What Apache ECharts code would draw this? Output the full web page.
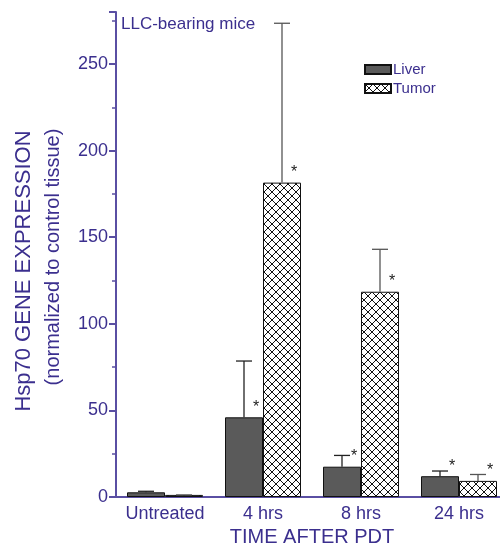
<!DOCTYPE html>
<html>
<head>
<meta charset="utf-8">
<script src="https://cdn.jsdelivr.net/npm/echarts@6/dist/echarts.min.js"></script>
<style>
  html, body { margin: 0; padding: 0; background: #fff; }
  #main { width: 500px; height: 549px; }
</style>
</head>
<body>
<div id="main"></div>
<script>
var categories = ['Untreated', '4 hrs', '8 hrs', '24 hrs'];
var liver = [2.7, 46, 17.5, 12];
var liverErrTop = [3.3, 78.5, 24, 15];
var tumor = [1.2, 181.5, 118.5, 9.3];
var tumorErrTop = [1.2, 273.5, 143, 13];
var liverStar = [0, 1, 1, 1];
var tumorStar = [0, 1, 1, 1];

var purple = '#3b2f8e';
var barW = 38;

// crosshatch fill for tumor bars
var tile = document.createElement('canvas');
tile.width = 8; tile.height = 8;
var ctx = tile.getContext('2d');
ctx.fillStyle = '#fff';
ctx.fillRect(0, 0, 8, 8);
ctx.strokeStyle = '#111';
ctx.lineWidth = 1;
ctx.beginPath();
ctx.moveTo(0, 0); ctx.lineTo(8, 8);
ctx.moveTo(8, 0); ctx.lineTo(0, 8);
ctx.stroke();
var hatch = { image: tile, repeat: 'repeat' };

function errSeries(vals, tops, stars, side, color) {
    var data = categories.map(function (c, i) { return [i, vals[i], tops[i], stars[i]]; });
    return {
        type: 'custom',
        data: data,
        z: 5,
        renderItem: function (params, api) {
            var p0 = api.coord([api.value(0), api.value(1)]);
            var p1 = api.coord([api.value(0), api.value(2)]);
            var x = p0[0] + side * barW / 2;
            var kids = [];
            if (p0[1] - p1[1] > 0.5) {
                kids.push({ type: 'line', shape: { x1: x, y1: p0[1], x2: x, y2: p1[1] }, style: { stroke: color, lineWidth: 1.3 } });
            }
            kids.push({ type: 'line', shape: { x1: x - 8, y1: p1[1], x2: x + 8, y2: p1[1] }, style: { stroke: color, lineWidth: 1.3 } });
            if (api.value(3)) {
                kids.push({ type: 'text', style: { text: '*', x: x + 12, y: p0[1] - 18, fill: '#222', font: '16px Liberation Sans', textAlign: 'center' } });
            }
            return { type: 'group', children: kids };
        }
    };
}

var chart = echarts.init(document.getElementById('main'));
chart.setOption({
    animation: false,
    textStyle: { fontFamily: 'Liberation Sans, Arial, sans-serif' },
    grid: { left: 116, right: -8, top: 12, bottom: 52, outerBoundsMode: 'none', containLabel: false },
    legend: {
        orient: 'vertical',
        left: 359, top: 57,
        icon: 'rect',
        itemWidth: 26, itemHeight: 9, itemGap: 4,
        textStyle: { color: purple, fontSize: 15, padding: [0, 0, 0, -3] },
        data: ['Liver', 'Tumor']
    },
    graphic: [
        { type: 'text', left: 121, top: 16, style: { text: 'LLC-bearing mice', fill: purple, font: '17px Liberation Sans' } },
        { type: 'text', x: 24, y: 271, rotation: Math.PI / 2, style: { text: 'Hsp70 GENE EXPRESSION', fill: purple, font: '22px Liberation Sans', textAlign: 'center', textVerticalAlign: 'middle' } },
        { type: 'text', x: 53, y: 257, rotation: Math.PI / 2, style: { text: '(normalized to control tissue)', fill: purple, font: '20px Liberation Sans', textAlign: 'center', textVerticalAlign: 'middle' } }
    ],
    xAxis: {
        type: 'category',
        data: categories,
        axisLine: { lineStyle: { color: '#5a4fa3', width: 2 } },
        axisTick: { show: false },
        axisLabel: { color: purple, fontSize: 18, margin: 8, interval: 0 },
        name: 'TIME AFTER PDT',
        nameLocation: 'middle',
        nameGap: 30,
        nameTextStyle: { color: purple, fontSize: 20 }
    },
    yAxis: {
        type: 'value',
        min: 0, max: 280, interval: 50,
        axisLine: { show: true, lineStyle: { color: '#5a4fa3', width: 2 } },
        axisTick: { show: true, length: 7, lineStyle: { color: '#5a4fa3', width: 2 } },
        minorTick: { show: true, splitNumber: 2, length: 4, lineStyle: { color: '#5a4fa3', width: 1.5 } },
        splitLine: { show: false },
        axisLabel: { color: purple, fontSize: 18, margin: 8, showMaxLabel: false }
    },
    series: [
        { name: 'Liver', type: 'bar', data: liver, barWidth: barW, barGap: '0%',
          itemStyle: { color: '#5a5a5a', borderColor: '#111', borderWidth: 1 } },
        { name: 'Tumor', type: 'bar', data: tumor, barWidth: barW,
          itemStyle: { color: hatch, borderColor: '#111', borderWidth: 1 } },
        errSeries(liver, liverErrTop, liverStar, -1, '#222'),
        errSeries(tumor, tumorErrTop, tumorStar, 1, '#555')
    ]
});
</script>
</body>
</html>
